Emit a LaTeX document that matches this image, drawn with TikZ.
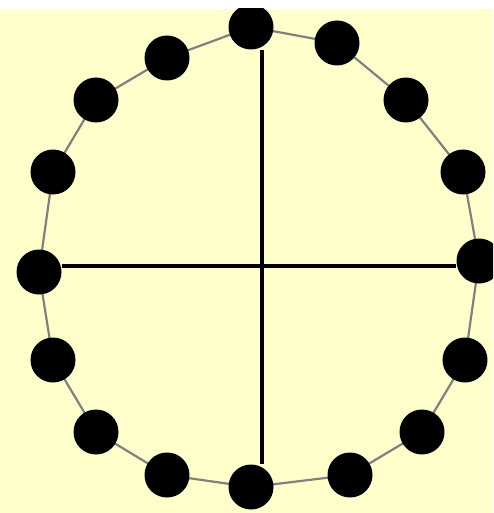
\documentclass[tikz,border=0pt]{standalone}
\begin{document}
\begin{tikzpicture}[x=1pt,y=-1pt,
  dot/.style={circle,fill=black,draw=none,inner sep=0pt,minimum size=45pt},
  ring/.style={draw=black!50,line width=2.2pt},
  axis/.style={draw=black,line width=4pt}]
\definecolor{bgyellow}{RGB}{255,255,204}
\useasboundingbox (0,0) rectangle (493,513);
\fill[white] (0,0) rectangle (493,9);
\fill[bgyellow] (0,9) rectangle (493,513);
\clip (0,9) rectangle (493,513);
\coordinate (c) at (261.5,266);
\foreach \i/\x/\y in {0/251/27,1/337/43,2/406/100,3/463/172,4/479/261,5/465/360,6/422/432,7/350/475,8/251/487,9/167/475,10/96/432,11/53/360,12/39/272,13/53/172,14/96/100,15/167/58}
  \coordinate (p\i) at (\x,\y);
\draw[ring] (p0) -- (p1) -- (p2) -- (p3) -- (p4) -- (p5) -- (p6) -- (p7) -- (p8) -- (p9) -- (p10) -- (p11) -- (p12) -- (p13) -- (p14) -- (p15) -- cycle;
\foreach \i in {0,...,15}
  \node[dot] (n\i) at (p\i) {};
\draw[axis] (c |- n0.south) -- (c |- n8.north);
\draw[axis] (c -| n12.east) -- (c -| n4.west);
\end{tikzpicture}
\end{document}
